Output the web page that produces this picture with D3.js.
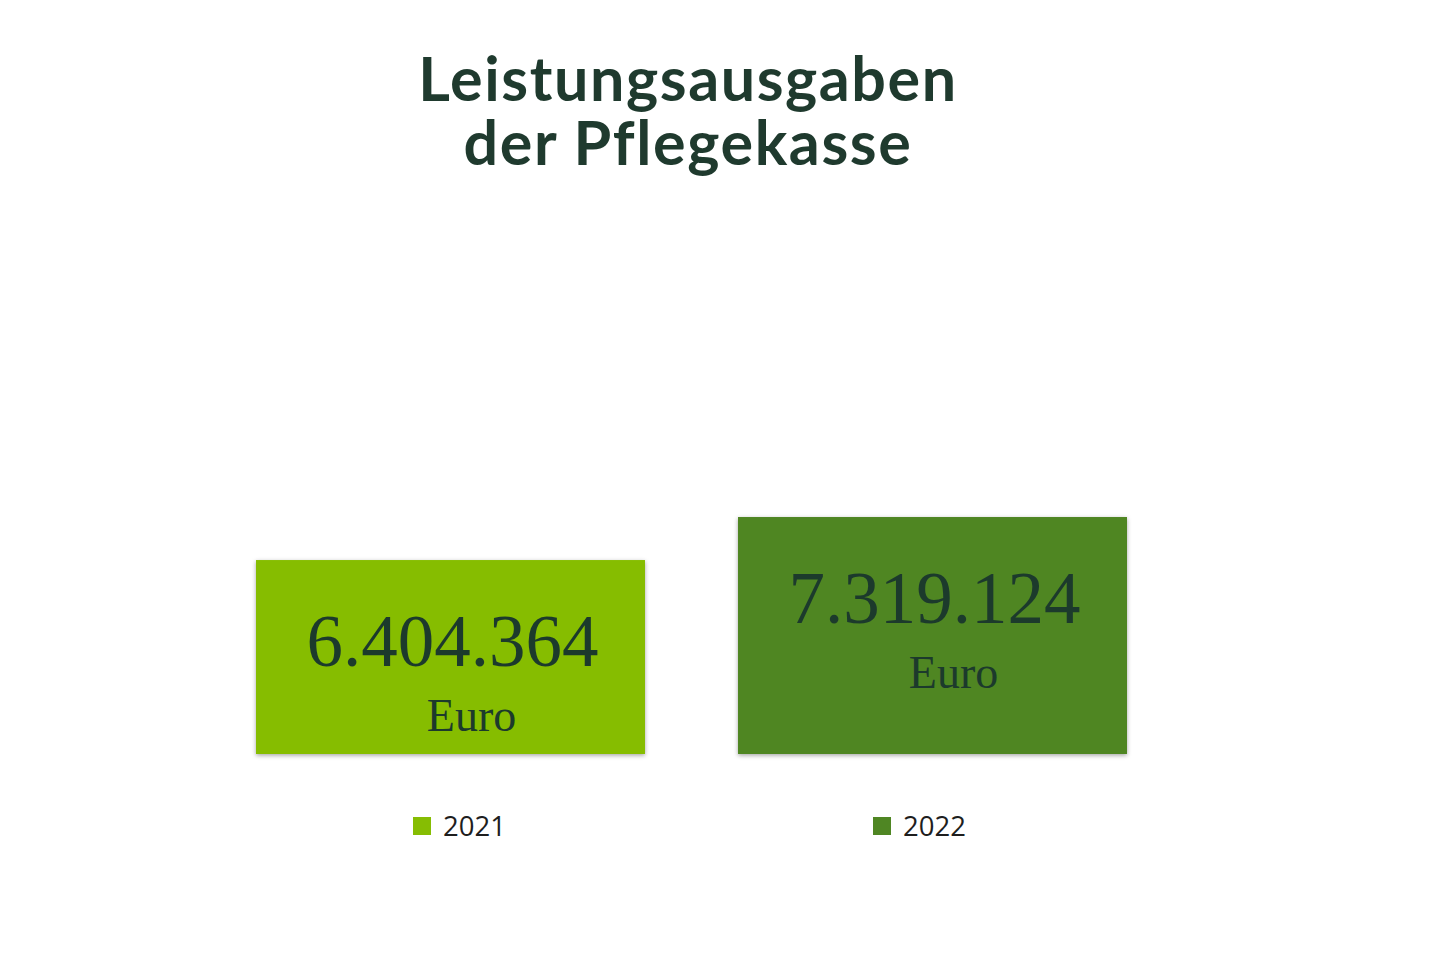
<!DOCTYPE html>
<html>
<head>
<meta charset="utf-8">
<script src="https://cdn.jsdelivr.net/npm/d3@7"></script>
<style>
  html, body { margin: 0; padding: 0; background: #ffffff; }
  svg { display: block; }
</style>
</head>
<body>
<div id="chart"></div>
<script>
// data
const years = ["2021", "2022"];
const values = [6404364, 7319124];
const unitLabel = "Euro";
const titleLines = ["Leistungsausgaben", "der Pflegekasse"];
const barColors = ["#86bd03", "#4f8623"];

const width = 1440, height = 960;
const baseline = 754;

const svg = d3.select("#chart").append("svg")
    .attr("width", width)
    .attr("height", height);

// soft drop shadow under the boxes
const defs = svg.append("defs");
defs.append("filter")
    .attr("id", "shadow")
    .attr("x", "-5%").attr("y", "-5%")
    .attr("width", "110%").attr("height", "115%")
    .append("feDropShadow")
    .attr("dx", 0).attr("dy", 1.5)
    .attr("stdDeviation", 2)
    .attr("flood-color", "#000")
    .attr("flood-opacity", 0.35);

// german number format: 6.404.364
const de = d3.formatLocale({ decimal: ",", thousands: ".", grouping: [3], currency: ["", " €"] });
const fmt = de.format(",d");

const x = d3.scaleBand()
    .domain(years)
    .range([256, 1127])
    .paddingInner(0.193)
    .paddingOuter(0);

// the axis does not start at zero in the original
const y = d3.scaleLinear()
    .domain([2280000, 8000000])
    .range([baseline, 485]);

const color = d3.scaleOrdinal().domain(years).range(barColors);

const data = years.map((yr, i) => ({ year: yr, value: values[i] }));

// title, two lines
svg.append("g").selectAll("text")
    .data(titleLines)
    .join("text")
    .attr("x", 688)
    .attr("y", (d, i) => 101 + i * 64)
    .attr("text-anchor", "middle")
    .style("font-family", "Lato, 'Open Sans', sans-serif")
    .style("font-weight", 700)
    .style("font-size", "61px")
    .style("letter-spacing", "1.6px")
    .style("fill", "#1f3a2e")
    .text(d => d);

// bars
const bars = svg.append("g").selectAll("g")
    .data(data)
    .join("g");

bars.append("rect")
    .attr("x", d => x(d.year))
    .attr("y", d => y(d.value))
    .attr("width", x.bandwidth())
    .attr("height", d => baseline - y(d.value))
    .attr("fill", d => color(d.year))
    .attr("filter", "url(#shadow)");

bars.append("text")
    .attr("x", d => x(d.year) + x.bandwidth() / 2 + 2)
    .attr("y", d => y(d.value) + 106)
    .attr("text-anchor", "middle")
    .style("font-family", "'Liberation Serif', 'DejaVu Serif', serif")
    .style("font-size", "73px")
    .style("fill", "#1c3a2c")
    .text(d => fmt(d.value));

bars.append("text")
    .attr("x", d => x(d.year) + x.bandwidth() / 2 + 21)
    .attr("y", d => y(d.value) + 171)
    .attr("text-anchor", "middle")
    .style("font-family", "'Liberation Serif', 'DejaVu Serif', serif")
    .style("font-size", "46px")
    .style("fill", "#1c3a2c")
    .text(unitLabel);

// legend
const legendX = d3.scalePoint().domain(years).range([413, 873]);
const legend = svg.append("g").selectAll("g")
    .data(years)
    .join("g")
    .attr("transform", d => `translate(${legendX(d)},817)`);

legend.append("rect")
    .attr("width", 18)
    .attr("height", 18)
    .attr("fill", d => color(d));

legend.append("text")
    .attr("x", 30)
    .attr("y", 19)
    .style("font-family", "'Open Sans', sans-serif")
    .style("font-size", "27.5px")
    .style("fill", "#1e1e1e")
    .text(d => d);
</script>
</body>
</html>
